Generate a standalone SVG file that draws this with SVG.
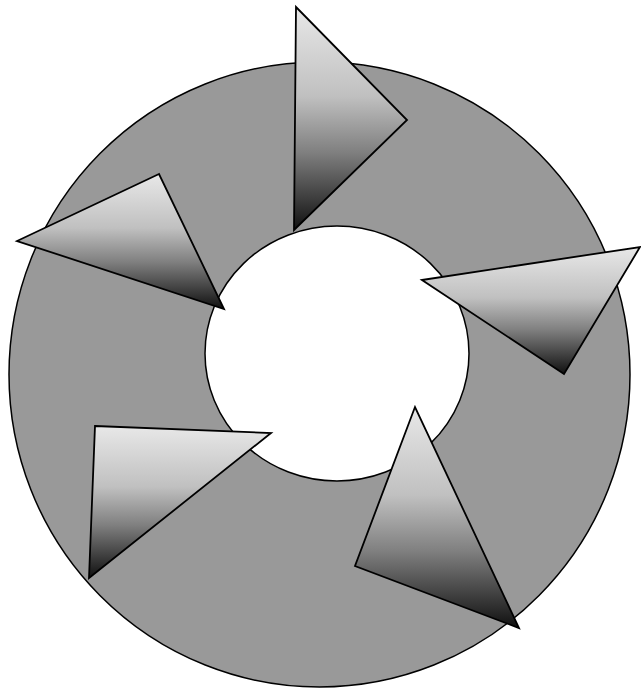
<svg xmlns="http://www.w3.org/2000/svg" width="641" height="688" viewBox="0 0 641 688">
<defs>
<linearGradient id="g" x1="0" y1="0" x2="0" y2="1">
<stop offset="0" stop-color="#e8e8e8"/>
<stop offset="0.4" stop-color="#c0c0c0"/>
<stop offset="0.65" stop-color="#808080"/>
<stop offset="1" stop-color="#101010"/>
</linearGradient>
</defs>
<style>
.ring{fill:#999999;stroke:#000;stroke-width:1.5;fill-rule:evenodd}
.tri{fill:url(#g);stroke:#000;stroke-width:1.8;stroke-linejoin:miter}
</style>
<rect width="641" height="688" fill="#fff"/>
<g id="ring">
<path class="ring" d="M9,374.5 A310.5,312.5 0 1 0 630,374.5 A310.5,312.5 0 1 0 9,374.5 Z M205,353.5 A132,127.5 0 1 0 469,353.5 A132,127.5 0 1 0 205,353.5 Z"/>
</g>
<g id="arrows">
<g id="arrow-top"><polygon class="tri" points="296,7 407,120 294,230"/></g>
<g id="arrow-right"><polygon class="tri" points="422,280 640,247 564,374"/></g>
<g id="arrow-bottom-right"><polygon class="tri" points="415,407 355,566 519,628"/></g>
<g id="arrow-bottom-left"><polygon class="tri" points="95,426 271,433 89,578"/></g>
<g id="arrow-left"><polygon class="tri" points="159,174 17,241 224,309"/></g>
</g>
</svg>
